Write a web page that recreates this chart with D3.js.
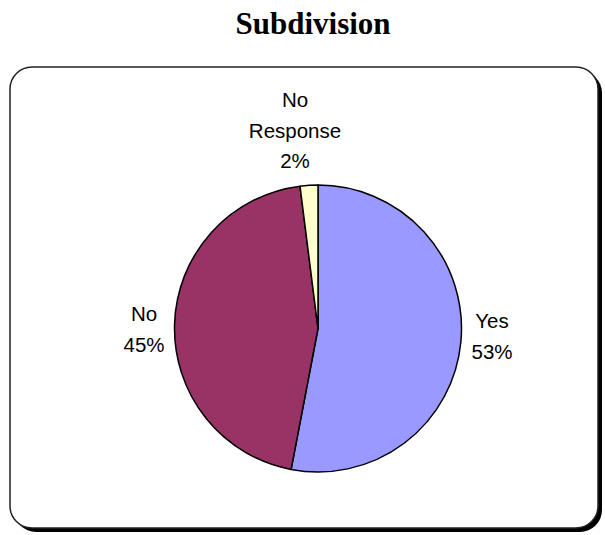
<!DOCTYPE html>
<html>
<head>
<meta charset="utf-8">
<script src="https://cdn.jsdelivr.net/npm/d3@7"></script>
<style>
  html, body { margin: 0; padding: 0; background: #fff; }
  svg { display: block; }
</style>
</head>
<body>
<svg id="chart" width="605" height="535"></svg>
<script>
// Survey answers on subdivision
const categories = ["Yes", "No", "No Response"];
const values = [53, 45, 2];
const colors = ["#9999FF", "#993366", "#FFFFCC"];

const svg = d3.select("#chart");

// Title
svg.append("text")
  .attr("x", 313).attr("y", 34)
  .attr("text-anchor", "middle")
  .attr("font-family", "'Liberation Serif', 'Times New Roman', serif")
  .attr("font-weight", "bold")
  .attr("font-size", 31)
  .text("Subdivision");

// Chart area frame with drop shadow
const frame = { x: 10, y: 67, w: 588, h: 461, r: 22 };
svg.append("rect")
  .attr("x", frame.x + 4).attr("y", frame.y + 4)
  .attr("width", frame.w).attr("height", frame.h)
  .attr("rx", frame.r)
  .attr("fill", "#000");
svg.append("rect")
  .attr("x", frame.x).attr("y", frame.y)
  .attr("width", frame.w).attr("height", frame.h)
  .attr("rx", frame.r)
  .attr("fill", "#fff")
  .attr("stroke", "#222")
  .attr("stroke-width", 1.5);

// Pie, starting at 12 o'clock and running clockwise
const cx = 318, cy = 328.5, R = 143.5;
const data = categories.map((c, i) => ({ name: c, value: values[i], color: colors[i] }));
const pie = d3.pie().value(d => d.value).sort(null);
const arcs = pie(data);
const arc = d3.arc().innerRadius(0).outerRadius(R);

const g = svg.append("g").attr("transform", `translate(${cx},${cy})`);
g.selectAll("path")
  .data(arcs)
  .join("path")
  .attr("d", arc)
  .attr("fill", d => d.data.color)
  .attr("stroke", "#000")
  .attr("stroke-width", 1.5)
  .attr("stroke-linejoin", "round");

// Labels: name lines followed by the percentage
const labelPos = {
  "Yes": { x: 492, y: 328 },
  "No": { x: 144, y: 321 },
  "No Response": { x: 295, y: 107 }
};
const lineH = 30.5;
const labels = svg.append("g")
  .attr("font-family", "'Liberation Sans', Arial, sans-serif")
  .attr("font-size", 20.5)
  .attr("fill", "#000")
  .attr("text-anchor", "middle");

arcs.forEach(a => {
  const p = labelPos[a.data.name];
  const lines = a.data.name.split(" ").concat([d3.format(".0f")(a.data.value) + "%"]);
  const t = labels.append("text").attr("x", p.x).attr("y", p.y);
  lines.forEach((ln, i) => {
    t.append("tspan").attr("x", p.x).attr("y", p.y + i * lineH).text(ln);
  });
});
</script>
</body>
</html>
